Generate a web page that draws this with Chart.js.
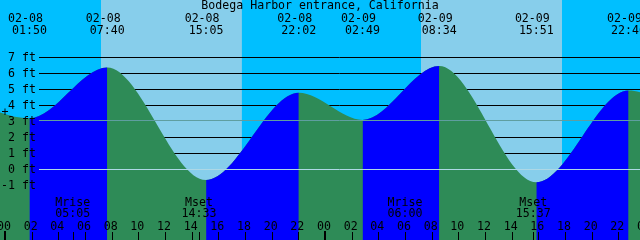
<!DOCTYPE html>
<html>
<head>
<meta charset="utf-8">
<script src="https://cdn.jsdelivr.net/npm/chart.js@4.4.0/dist/chart.umd.min.js"></script>
<style>
  html, body { margin: 0; padding: 0; background: #00bfff; }
  canvas { display: block; }
</style>
</head>
<body>
<canvas id="tideChart" width="640" height="240"></canvas>
<script>
// station + tide extremes (first and last points are just off screen)
const stationName = 'Bodega Harbor entrance, California';
const tideDays = ['02-07', '02-08', '02-08', '02-08', '02-08', '02-09', '02-09', '02-09', '02-09', '02-10'];
const tideTimes = ['20:45', '01:50', '07:40', '15:05', '22:02', '02:49', '08:34', '15:51', '22:46', '03:35'];
const tideHeights = [4.4, 3.17, 6.34, -0.69, 4.76, 3.07, 6.44, -0.83, 4.91, 3.0];

// daylight
const sunDays = ['02-08', '02-09'];
const sunRise = ['07:12', '07:12'];
const sunSet = ['17:46', '17:47'];

// moon
const moonDays = ['02-08', '02-08', '02-09', '02-09'];
const moonTimes = ['05:05', '14:33', '06:00', '15:37'];
const moonLabels = ['Mrise', 'Mset', 'Mrise', 'Mset'];

// axis
const depthTicks = [-1, 0, 1, 2, 3, 4, 5, 6, 7];
const hourTicks = [0, 2, 4, 6, 8, 10, 12, 14, 16, 18, 20, 22, 24, 26, 28, 30, 32, 34, 36, 38, 40, 42, 44, 46, 48];
const meanLevel = 3.06;

const nightColor = '#00bfff';
const dayColor = '#87ceeb';
const floodColor = '#0000ff';
const ebbColor = '#2e8b57';
const mslColor = '#5f9ea0';
const datumColor = '#add8e6';
const font = '11.6px "DejaVu Sans Mono", monospace';

const xMin = -0.375, xMax = 47.625;
const yMin = -4.4375, yMax = 10.5625;
const lineStart = 39;

function toHours(day, time) {
    const d = parseInt(day.slice(3), 10) - 8;
    const [h, m] = time.split(':').map(Number);
    return d * 24 + h + m / 60;
}

const tidePoints = tideTimes.map((t, i) => ({ x: toHours(tideDays[i], t), y: tideHeights[i] }));

const dayPoints = [];
sunDays.forEach((d, i) => {
    dayPoints.push({ x: toHours(d, sunRise[i]), y: yMin });
    dayPoints.push({ x: toHours(d, sunSet[i]), y: yMin });
    dayPoints.push({ x: toHours(d, sunSet[i]), y: null });
});

const tideMarks = {
    id: 'tideMarks',
    afterDatasetDraw(chart, args) {
        // black depth lines go under the water
        if (args.index !== 0) return;
        const { ctx, chartArea, scales: { y } } = chart;
        ctx.save();
        ctx.strokeStyle = '#000';
        ctx.lineWidth = 1;
        depthTicks.forEach(v => {
            if (v === 0 || v === 3) return;
            const py = Math.round(y.getPixelForValue(v)) + 0.5;
            ctx.beginPath();
            ctx.moveTo(lineStart, py);
            ctx.lineTo(chartArea.right, py);
            ctx.stroke();
        });
        ctx.restore();
    },
    afterDatasetsDraw(chart) {
        const { ctx, chartArea, scales: { x, y } } = chart;
        ctx.save();
        ctx.lineWidth = 1;

        // datum + mean level lines over the water
        [[0, datumColor], [meanLevel, mslColor]].forEach(([v, c]) => {
            const py = Math.round(y.getPixelForValue(v)) + 0.5;
            ctx.strokeStyle = c;
            ctx.beginPath();
            ctx.moveTo(lineStart, py);
            ctx.lineTo(chartArea.right, py);
            ctx.stroke();
        });

        ctx.font = font;
        ctx.fillStyle = '#000';
        ctx.textBaseline = 'alphabetic';

        // depth labels
        ctx.textAlign = 'right';
        depthTicks.forEach(v => {
            const py = Math.round(y.getPixelForValue(v));
            ctx.fillText(v + ' ft', 36, py + 4);
        });

        ctx.textAlign = 'center';
        ctx.fillText('+', 5, 116);

        // title
        ctx.fillText(stationName, 320, 9);

        // high / low times
        tidePoints.forEach((p, i) => {
            const px = x.getPixelForValue(p.x);
            ctx.fillText(tideDays[i], px - 4, 21.5);
            ctx.fillText(tideTimes[i], px, 33.5);
        });

        // moon rise / set
        ctx.strokeStyle = '#000';
        moonTimes.forEach((t, i) => {
            const px = x.getPixelForValue(toHours(moonDays[i], t));
            ctx.fillText(moonLabels[i], px, 206);
            ctx.fillText(t, px, 217);
            const tx = Math.round(px) + 0.5;
            ctx.beginPath();
            ctx.moveTo(tx, 232);
            ctx.lineTo(tx, 240);
            ctx.stroke();
        });

        // hour axis
        hourTicks.forEach(h => {
            const px = x.getPixelForValue(h);
            const label = String(h % 24).padStart(2, '0');
            ctx.fillText(label, px - 1, 229.5);
            if (h % 24 === 0) {
                ctx.fillRect(Math.round(px) - 1, 231, 2, 9);
            } else {
                const tx = Math.round(px) + 0.5;
                ctx.beginPath();
                ctx.moveTo(tx, 232);
                ctx.lineTo(tx, 240);
                ctx.stroke();
            }
        });
        ctx.restore();
    }
};

const ctx = document.getElementById('tideChart').getContext('2d');
const tideChart = new Chart(ctx, {
    type: 'line',
    data: {
        datasets: [
            {
                label: 'daylight',
                data: dayPoints,
                borderWidth: 0,
                borderColor: 'rgba(0,0,0,0)',
                pointRadius: 0,
                spanGaps: false,
                fill: 'end',
                backgroundColor: dayColor,
                order: 3
            },
            {
                // whole water body, falling tide colour
                label: 'tide',
                data: tidePoints,
                cubicInterpolationMode: 'monotone',
                borderWidth: 0,
                borderColor: 'rgba(0,0,0,0)',
                pointRadius: 0,
                fill: 'start',
                backgroundColor: ebbColor,
                order: 2
            },
            {
                // rising stretches painted on top
                label: 'rising',
                data: tidePoints,
                cubicInterpolationMode: 'monotone',
                borderWidth: 0,
                borderColor: 'rgba(0,0,0,0)',
                pointRadius: 0,
                fill: 'start',
                backgroundColor: 'rgba(0,0,0,0)',
                segment: {
                    backgroundColor: c => c.p1.parsed.y > c.p0.parsed.y ? floodColor : 'rgba(0,0,0,0)'
                },
                order: 1
            }
        ]
    },
    options: {
        responsive: false,
        animation: false,
        events: [],
        layout: { padding: 0 },
        scales: {
            x: { type: 'linear', min: xMin, max: xMax, display: false },
            y: { type: 'linear', min: yMin, max: yMax, display: false }
        },
        plugins: {
            legend: { display: false },
            tooltip: { enabled: false },
            title: { display: false }
        }
    },
    plugins: [tideMarks]
});
</script>
</body>
</html>
